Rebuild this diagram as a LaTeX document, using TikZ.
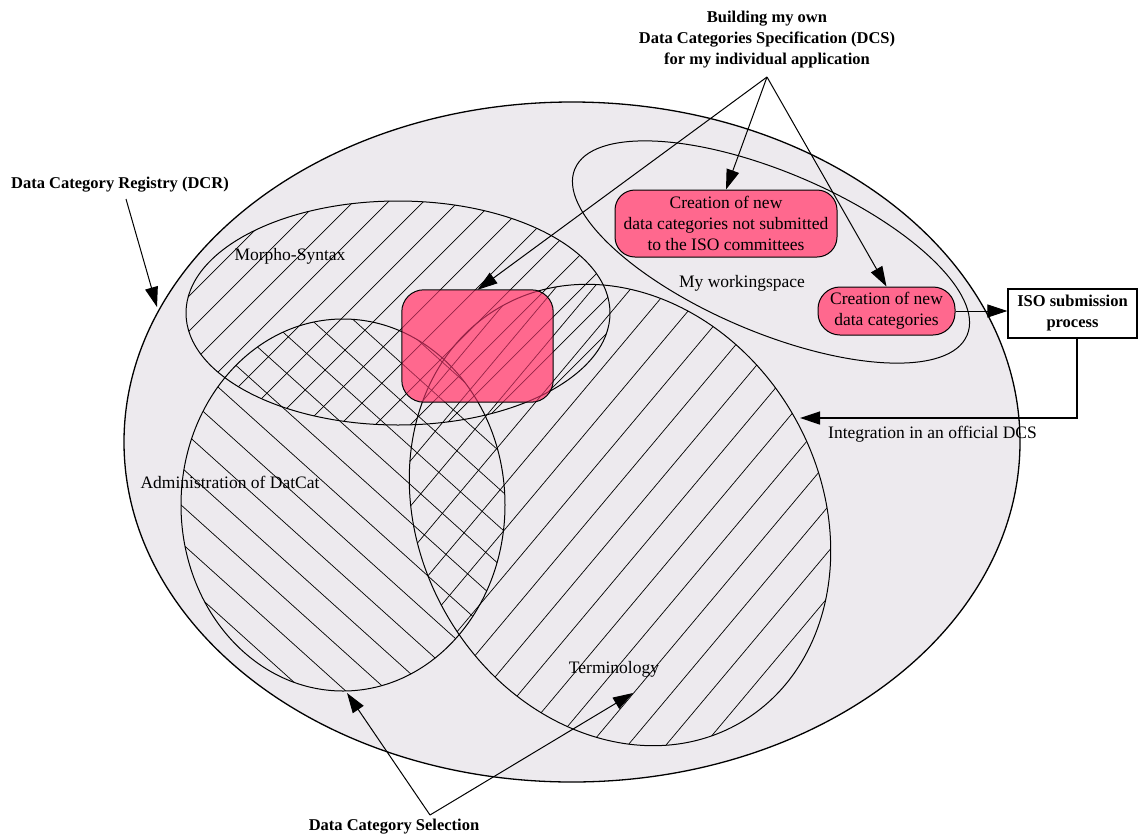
\documentclass[tikz,border=0pt]{standalone}
\usepackage{fontspec}
\setmainfont{Liberation Serif}
\usetikzlibrary{arrows.meta}
\definecolor{dcrgray}{RGB}{237,234,238}
\definecolor{pinkc}{RGB}{255,104,142}
\definecolor{darkpink}{RGB}{150,35,70}
\newcommand\hatchall[1]{%
  \begin{scope}
    \clip (398,313) ellipse [x radius=212pt, y radius=112pt];
    \foreach \c in {-800,-765,...,1200} \draw[hatch,#1] (\c,900) -- ++(900,-900);
  \end{scope}
  \begin{scope}
    \clip (343,505) ellipse [x radius=162pt, y radius=186pt];
    \foreach \c in {-800,-758,...,700} \draw[hatch,#1] (\c,0) -- ++(1000,900);
  \end{scope}
  \begin{scope}
    \clip[rotate around={30:(620,515)}] (620,515) ellipse [x radius=200pt, y radius=240pt];
    \foreach \c in {-300,-262,...,1000} \draw[hatch,#1] (\c,900) -- ++(755,-900);
  \end{scope}
  \draw[outline,#1] (398,313) ellipse [x radius=212pt, y radius=112pt];
  \draw[outline,#1] (343,505) ellipse [x radius=162pt, y radius=186pt];
  \draw[outline,#1,rotate around={30:(620,515)}] (620,515) ellipse [x radius=200pt, y radius=240pt];
}
\begin{document}
\begin{tikzpicture}[x=1pt,y=-1pt,
  outline/.style={line width=1pt},
  hatch/.style={line width=0.7pt},
  arr/.style={line width=1pt,-{Triangle[length=20pt,width=13pt]}},
  pinkbox/.style={draw,line width=1pt,fill=pinkc,rounded corners=20pt,align=center,inner sep=0pt,font=\fontsize{17.5}{21}\selectfont},
  lbl/.style={font=\fontsize{17.5}{21}\selectfont,align=center,inner sep=0pt},
  blbl/.style={font=\fontsize{16.5}{21}\selectfont\bfseries,align=center,inner sep=0pt}]
\useasboundingbox (0,0) rectangle (1138,836);

% Data Category Registry
\filldraw[fill=dcrgray,line width=1.3pt] (572,442) ellipse [x radius=448pt, y radius=340pt];

% hatched regions and their outlines
\hatchall{black}
\draw[outline,rotate around={-23:(771,252)}] (771,252) ellipse [x radius=213pt, y radius=80pt];

% central box, with the shapes showing through
\node[fill=pinkc,rounded corners=22pt,minimum width=151pt,minimum height=112pt,inner sep=0pt] (cbox) at (477.5,346) {};
\begin{scope}
  \clip[rounded corners=22pt] (cbox.south west) rectangle (cbox.north east);
  \hatchall{darkpink}
\end{scope}
\draw[line width=1pt,rounded corners=22pt] (cbox.south west) rectangle (cbox.north east);

% boxes
\node[pinkbox,minimum width=222pt,minimum height=67pt] (box1) at (726,223.5) {Creation of new\\data categories not submitted\\to the ISO committees};
\node[pinkbox,minimum width=137pt,minimum height=48pt,rounded corners=22pt] (box2) at (886.5,311) {Creation of new\\data categories};
\node[blbl,draw,line width=1.3pt,fill=white,minimum width=129pt,minimum height=49pt] (iso) at (1072.5,313.5) {ISO submission\\process};

% labels
\node[blbl] (build) at (767,40) {Building my own\\Data Categories Specification (DCS)\\for my individual application};
\node[blbl] (dcr) at (120,185) {Data Category Registry (DCR)};
\node[blbl] (dcs) at (394,827) {Data Category Selection};
\node[lbl] (morpho) at (290,256) {Morpho-Syntax};
\node[lbl] (admin) at (230,482) {Administration of DatCat};
\node[lbl] (term) at (614,669) {Terminology};
\node[lbl] (mws) at (742,283) {My workingspace};
\node[lbl,anchor=west] (integ) at (828,434) {Integration in an official DCS};

% coordinates
\coordinate (apex) at (767,77);
\coordinate (dcrtail) at (126,199);
\coordinate (dcrtip) at (157,307);
\coordinate (selapex) at (430,815);
\coordinate (admintip) at (347,693);
\coordinate (termtip) at (633,693);
\coordinate (integtip) at (800,418);

% connectors
\draw[arr] (apex) -- (box1.north);
\draw[arr] (apex) -- (box2.north);
\draw[arr] (apex) -- (cbox.north);
\draw[arr] (dcrtail) -- (dcrtip);
\draw[arr] (selapex) -- (admintip);
\draw[arr] (selapex) -- (termtip);
\draw[arr] (box2.east) -- (box2.east -| iso.west);
\draw[arr,line width=1.3pt] ([xshift=4.5pt]iso.south) |- (integtip);
\end{tikzpicture}
\end{document}
